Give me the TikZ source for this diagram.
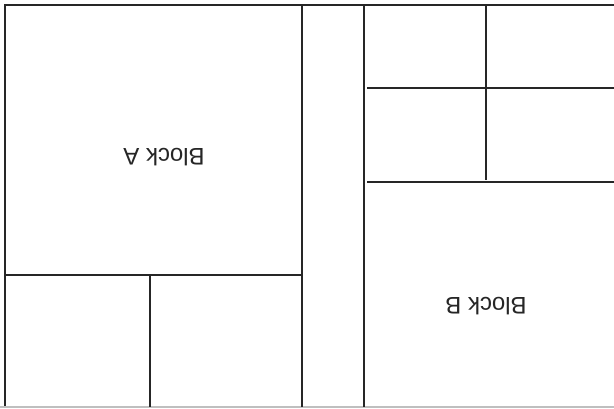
\documentclass[tikz,border=0pt]{standalone}
\usepackage{fontspec}
\setmainfont{Liberation Sans}
\begin{document}
\begin{tikzpicture}[x=1pt,y=-1pt,
  wall/.style={draw=black!85,line width=2pt,line cap=rect},
  faint/.style={draw=black!25,line width=1.2pt},
  lbl/.style={font=\fontsize{24}{26}\selectfont,rotate=180,text=black!85}]
\useasboundingbox (0,0) rectangle (614,409);
\fill[white] (0,0) rectangle (614,409);
% outer frame
\draw[wall] (5,406) -- (5,5) -- (614,5);
\draw[faint] (0,407) -- (614,407);
% separation strip
\draw[wall] (302,5) -- (302,406);
\draw[wall] (364,5) -- (364,406);
% block A subdivisions
\draw[wall] (5,275) -- (302,275);
\draw[wall] (150,275) -- (150,406);
% block B subdivisions
\draw[wall] (368,88.5) -- (614,88.5);
\draw[wall] (486,5) -- (486,179);
\draw[wall] (368,182.5) -- (614,182.5);
% labels
\node[lbl] (blockA) at (164,157) {Block A};
\node[lbl] (blockB) at (486,306) {Block B};
\end{tikzpicture}
\end{document}
